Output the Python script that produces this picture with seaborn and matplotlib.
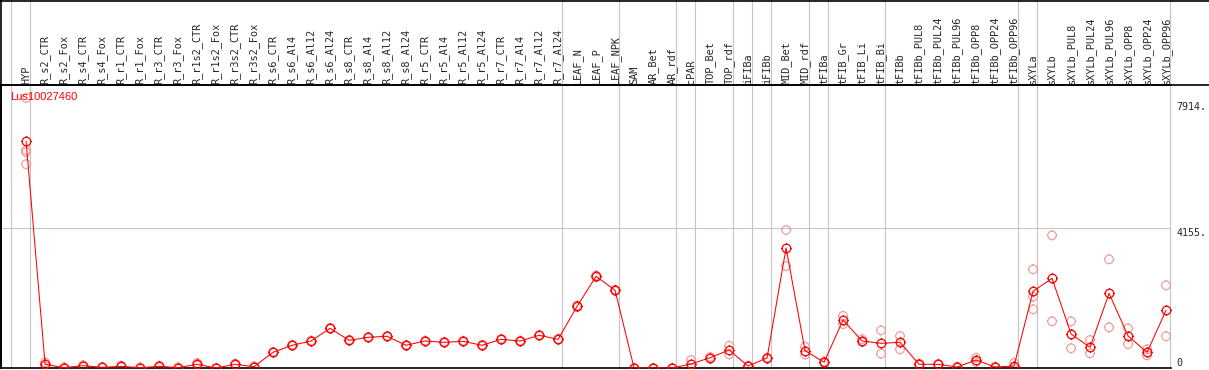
import numpy as np
import pandas as pd
import matplotlib
matplotlib.use("Agg")
import matplotlib.pyplot as plt
from matplotlib.path import Path
from matplotlib.lines import Line2D
import seaborn as sns

categories = ["HYP", "R_s2_CTR", "R_s2_Fox", "R_s4_CTR", "R_s4_Fox", "R_r1_CTR", "R_r1_Fox",
              "R_r3_CTR", "R_r3_Fox", "R_r1s2_CTR", "R_r1s2_Fox", "R_r3s2_CTR", "R_r3s2_Fox",
              "R_s6_CTR", "R_s6_Al4", "R_s6_Al12", "R_s6_Al24", "R_s8_CTR", "R_s8_Al4",
              "R_s8_Al12", "R_s8_Al24", "R_r5_CTR", "R_r5_Al4", "R_r5_Al12", "R_r5_Al24",
              "R_r7_CTR", "R_r7_Al4", "R_r7_Al12", "R_r7_Al24", "LEAF_N", "LEAF_P", "LEAF_NPK",
              "SAM", "AR_Bet", "AR_rdf", "cPAR", "TOP_Bet", "TOP_rdf", "iFIBa", "iFIBb",
              "MID_Bet", "MID_rdf", "tFIBa", "tFIB_Gr", "tFIB_Li", "tFIB_Bi", "tFIBb",
              "tFIBb_PUL8", "tFIBb_PUL24", "tFIBb_PUL96", "tFIBb_OPP8", "tFIBb_OPP24",
              "tFIBb_OPP96", "sXYLa", "sXYLb", "sXYLb_PUL8", "sXYLb_PUL24", "sXYLb_PUL96",
              "sXYLb_OPP8", "sXYLb_OPP24", "sXYLb_OPP96"]

expr_mean = [6743, 110, 10, 70, 20, 50, 10, 50, 10, 110, 0, 110, 40,
             467, 675, 803, 1180, 824, 913, 943,
             675, 803, 764, 794, 675, 853, 803, 972, 853,
             1835, 2727, 2311, 0, 0, 0,
             119, 306, 535, 60, 297, 3569,
             515, 170, 1428, 803, 734, 764,
             110, 110, 30, 238, 30, 60,
             2281, 2668, 1011, 616, 2221, 952, 467, 1716]

expr_reps = [[8030, 6480, 6420, 6060], [170, 50], [20, 0], [90, 50], [30, 10], [70, 30], [20, 0],
             [70, 30], [20, 0], [150, 70], [0, 0], [130, 90], [50, 30],
             [480, 455], [690, 660], [815, 790], [1195, 1165], [840, 810], [925, 900],
             [955, 930], [690, 660], [815, 790], [780, 750], [810, 780], [690, 660],
             [865, 840], [815, 790], [985, 960], [865, 840], [1860, 1810], [2750, 2700],
             [2330, 2290], [0, 0], [0, 0], [0, 0], [238, 0], [330, 280], [663, 407],
             [70, 50], [310, 285], [4104, 3033], [630, 400], [190, 150], [1550, 1306],
             [853, 773], [1121, 426], [952, 556], [130, 90], [120, 100], [40, 20],
             [306, 170], [40, 20], [149, 0], [2935, 2121, 1746], [3946, 1389], [1389, 586],
             [833, 437], [3233, 1210], [1180, 714], [556, 378], [2459, 943]]

group_ends = [-1, 0, 28, 31, 34, 35, 37, 38, 39, 41, 42, 45, 52, 53, 60]
ytick_vals = [0, 4155, 7914]
ytick_text = ["0", "4155.", "7914."]
gene = "Lus10027460"

sns.set_style("white")
plt.rcParams["font.family"] = ["DejaVu Sans Mono"]

W, H = 1209, 370
fig = plt.figure(figsize=(W / 100, H / 100), dpi=100)
# plot area: x 1..1171 px, y 85..368 px (from top)
ax = fig.add_axes([1 / W, 2 / H, 1170 / W, 283 / H])

idx = np.arange(len(categories))
df = pd.DataFrame({"idx": idx, "mean": expr_mean})
rep_df = pd.DataFrame([(i, v) for i, r in enumerate(expr_reps) for v in r], columns=["idx", "val"])

# circle marker with tiny ticks
t = 1.22
ticks = Path([[0, 1], [0, t], [0, -1], [0, -t], [1, 0], [t, 0], [-1, 0], [-t, 0]],
             [Path.MOVETO, Path.LINETO] * 4)
mk = Path.make_compound_path(Path.unit_circle(), ticks)

ax.axhline(4155, color="#c8c8c8", lw=0.8, zorder=0)
sns.scatterplot(data=rep_df, x="idx", y="val", ax=ax, marker=mk, s=56,
                facecolor="none", edgecolor="#ef9c9c", linewidth=0.85, zorder=2, legend=False)
sns.lineplot(data=df, x="idx", y="mean", ax=ax, color="red", lw=0.75, marker=mk,
             markersize=7.5, markerfacecolor="none", markeredgecolor="red",
             markeredgewidth=0.9, zorder=3)

ax.set_xlim(-1.32, 60.26)
ax.set_ylim(0, 8418)

for g in group_ends:
    ax.axvline(g + 0.2, ymin=0, ymax=368 / 283, color="#c4c4c4", lw=0.8, clip_on=False, zorder=1)

ax.xaxis.tick_top()
ax.set_xticks(idx)
ax.set_xticklabels(categories, rotation=90, fontsize=7.4)
ax.tick_params(axis="x", length=0, pad=1)
ax.yaxis.tick_right()
ax.set_yticks(ytick_vals)
ax.set_yticklabels(ytick_text, fontsize=7.2)
ax.tick_params(axis="y", length=0, pad=4)
for lab, va in zip(ax.get_yticklabels(), ["bottom", "top", "top"]):
    lab.set_va(va)
ax.set_xlabel("")
ax.set_ylabel("")

for s in ["left", "bottom", "top"]:
    ax.spines[s].set_color("black")
    ax.spines[s].set_linewidth(1.2)
ax.spines["right"].set_visible(False)

# frame lines: top border, header separator, left border through header
fig.add_artist(Line2D([0, 1], [1 - 0.6 / H, 1 - 0.6 / H], transform=fig.transFigure, color="black", lw=1.2))
fig.add_artist(Line2D([0, 1], [285 / H, 285 / H], transform=fig.transFigure, color="black", lw=1.2))
fig.add_artist(Line2D([1 / W, 1 / W], [2 / H, 1], transform=fig.transFigure, color="black", lw=1.2))

ax.text(9 / 1170, (368 - 97) / 283, gene, transform=ax.transAxes, color="red",
        fontsize=8, family=["Liberation Sans"], va="center", ha="left")

fig.savefig("out.png", dpi=100)
